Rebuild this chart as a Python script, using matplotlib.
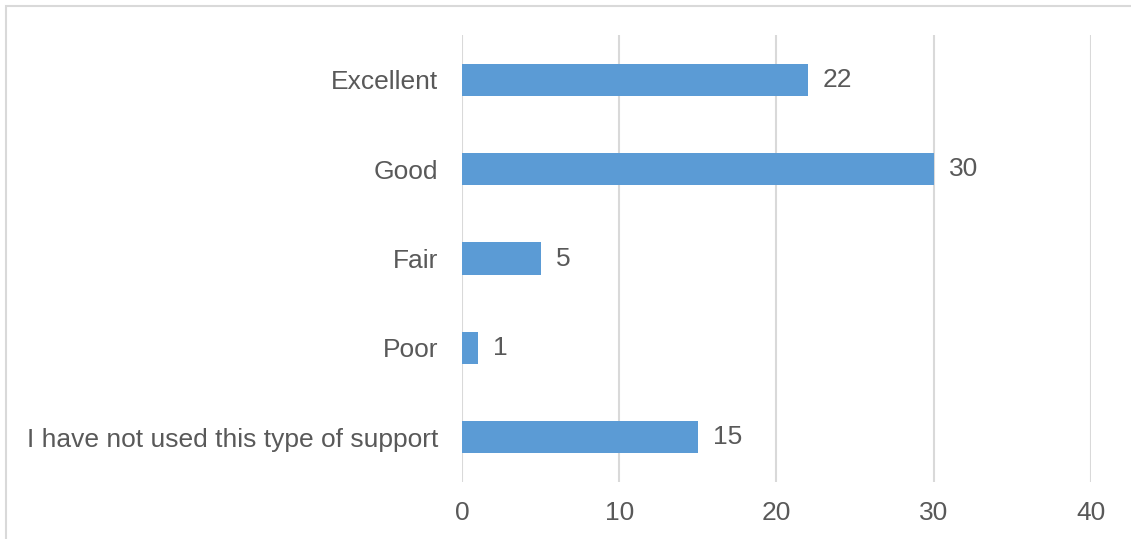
import matplotlib.pyplot as plt
from matplotlib.patches import Rectangle

plt.rcParams['font.family'] = ['Liberation Sans', 'DejaVu Sans']

# Survey answers, top to bottom
categories = ["Excellent", "Good", "Fair", "Poor", "I have not used this type of support"]
counts = [22, 30, 5, 1, 15]
xticks = [0, 10, 20, 30, 40]

text_col = "#595959"
bar_col = "#5B9BD5"
grid_col = "#D9D9D9"
fs = 19

fig = plt.figure(figsize=(11.31, 5.39), dpi=100)
ax = fig.add_axes([0.4085, 0.1058, 0.9644 - 0.4085, 0.935 - 0.1058])

ypos = list(range(len(categories)))[::-1]
ax.barh(ypos, counts, height=0.36, color=bar_col, zorder=3)

for y, v in zip(ypos, counts):
    ax.text(v + 0.95, y, str(v), va="center", ha="left", fontsize=fs, color=text_col)

ax.set_xlim(0, 40)
ax.set_ylim(-0.5, len(categories) - 0.5)
ax.set_xticks(xticks)
ax.set_xticklabels([str(t) for t in xticks])
ax.set_yticks(ypos)
ax.set_yticklabels(categories)
ax.tick_params(axis="both", length=0, labelsize=fs, labelcolor=text_col)
ax.tick_params(axis="y", pad=17)
ax.tick_params(axis="x", pad=14)

ax.grid(axis="x", color=grid_col, linewidth=1.5, zorder=0)
for s in ax.spines.values():
    s.set_visible(False)

# light frame around the chart area
fig.patches.append(Rectangle((6 / 1131, -0.1), 1.2, 1 - 6 / 539 + 0.1,
                             transform=fig.transFigure, fill=False,
                             edgecolor=grid_col, linewidth=1.5))

fig.savefig("out.png", dpi=100)
